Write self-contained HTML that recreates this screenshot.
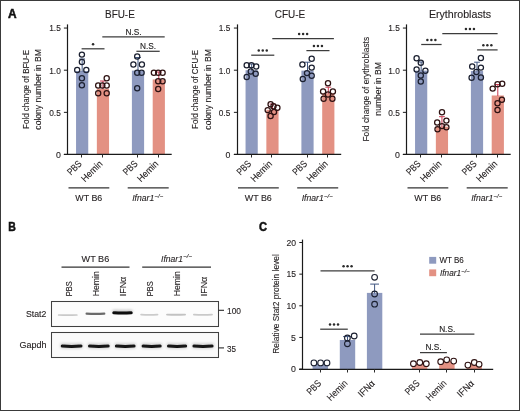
<!DOCTYPE html>
<html><head><meta charset="utf-8"><title>Figure</title>
<style>
html,body{margin:0;padding:0;background:#fff;}
body{width:520px;height:411px;overflow:hidden;}
.wrap{will-change:transform;}
text{stroke:#231f20;stroke-width:0.12px;}
svg{display:block;font-family:"Liberation Sans", sans-serif;}
</style></head>
<body><div class="wrap">
<svg width="520" height="411" viewBox="0 0 520 411">
<rect x="0" y="0" width="520" height="411" fill="#fff"/>
<text x="8.10" y="17.50" font-size="12.0" text-anchor="start" fill="#111" textLength="8.60" lengthAdjust="spacingAndGlyphs" font-weight="bold" style="stroke:#111;stroke-width:0.5px">A</text>
<text x="119.90" y="18.20" font-size="10" text-anchor="middle" fill="#231f20" textLength="29.80" lengthAdjust="spacingAndGlyphs" >BFU-E</text>
<rect x="76.05" y="71.04" width="12.20" height="83.46" fill="#8e9abf" />
<rect x="96.85" y="88.75" width="12.20" height="65.75" fill="#e39183" />
<rect x="131.90" y="70.62" width="12.20" height="83.88" fill="#8e9abf" />
<rect x="152.70" y="79.47" width="12.20" height="75.03" fill="#e39183" />
<line x1="82.15" y1="59.00" x2="82.15" y2="71.54" stroke="#3f5580" stroke-width="1.0"/>
<line x1="79.25" y1="59.00" x2="85.05" y2="59.00" stroke="#3f5580" stroke-width="1.0"/>
<line x1="102.95" y1="81.00" x2="102.95" y2="89.25" stroke="#c8364e" stroke-width="1.0"/>
<line x1="100.05" y1="81.00" x2="105.85" y2="81.00" stroke="#c8364e" stroke-width="1.0"/>
<line x1="138.00" y1="57.50" x2="138.00" y2="71.12" stroke="#3f5580" stroke-width="1.0"/>
<line x1="135.10" y1="57.50" x2="140.90" y2="57.50" stroke="#3f5580" stroke-width="1.0"/>
<line x1="158.80" y1="72.00" x2="158.80" y2="79.97" stroke="#c8364e" stroke-width="1.0"/>
<line x1="155.90" y1="72.00" x2="161.70" y2="72.00" stroke="#c8364e" stroke-width="1.0"/>
<circle cx="81.90" cy="54.60" r="2.6" fill="none" stroke="#1b2030" stroke-width="1.25"/>
<circle cx="81.90" cy="61.90" r="2.6" fill="none" stroke="#1b2030" stroke-width="1.25"/>
<circle cx="77.20" cy="69.90" r="2.6" fill="none" stroke="#1b2030" stroke-width="1.25"/>
<circle cx="86.30" cy="69.90" r="2.6" fill="none" stroke="#1b2030" stroke-width="1.25"/>
<circle cx="81.90" cy="78.20" r="2.6" fill="none" stroke="#1b2030" stroke-width="1.25"/>
<circle cx="81.90" cy="85.30" r="2.6" fill="none" stroke="#1b2030" stroke-width="1.25"/>
<circle cx="106.70" cy="78.20" r="2.6" fill="none" stroke="#2e1212" stroke-width="1.25"/>
<circle cx="98.20" cy="85.50" r="2.6" fill="none" stroke="#2e1212" stroke-width="1.25"/>
<circle cx="102.30" cy="85.50" r="2.6" fill="none" stroke="#2e1212" stroke-width="1.25"/>
<circle cx="106.70" cy="85.50" r="2.6" fill="none" stroke="#2e1212" stroke-width="1.25"/>
<circle cx="98.20" cy="93.30" r="2.6" fill="none" stroke="#2e1212" stroke-width="1.25"/>
<circle cx="106.70" cy="93.30" r="2.6" fill="none" stroke="#2e1212" stroke-width="1.25"/>
<circle cx="137.20" cy="56.40" r="2.6" fill="none" stroke="#1b2030" stroke-width="1.25"/>
<circle cx="133.40" cy="64.50" r="2.6" fill="none" stroke="#1b2030" stroke-width="1.25"/>
<circle cx="141.90" cy="64.50" r="2.6" fill="none" stroke="#1b2030" stroke-width="1.25"/>
<circle cx="137.20" cy="72.80" r="2.6" fill="none" stroke="#1b2030" stroke-width="1.25"/>
<circle cx="141.60" cy="72.80" r="2.6" fill="none" stroke="#1b2030" stroke-width="1.25"/>
<circle cx="137.20" cy="88.20" r="2.6" fill="none" stroke="#1b2030" stroke-width="1.25"/>
<circle cx="153.90" cy="72.80" r="2.6" fill="none" stroke="#2e1212" stroke-width="1.25"/>
<circle cx="158.20" cy="72.80" r="2.6" fill="none" stroke="#2e1212" stroke-width="1.25"/>
<circle cx="162.60" cy="72.80" r="2.6" fill="none" stroke="#2e1212" stroke-width="1.25"/>
<circle cx="158.20" cy="81.30" r="2.6" fill="none" stroke="#2e1212" stroke-width="1.25"/>
<circle cx="162.60" cy="81.30" r="2.6" fill="none" stroke="#2e1212" stroke-width="1.25"/>
<circle cx="158.20" cy="88.90" r="2.6" fill="none" stroke="#2e1212" stroke-width="1.25"/>
<line x1="67.50" y1="24.40" x2="67.50" y2="155.00" stroke="#1a1a1a" stroke-width="1.2"/>
<line x1="63.90" y1="154.40" x2="171.70" y2="154.40" stroke="#1a1a1a" stroke-width="1.2"/>
<line x1="63.90" y1="28.05" x2="67.50" y2="28.05" stroke="#1a1a1a" stroke-width="1.0"/>
<text x="60.80" y="31.35" font-size="9.4" text-anchor="end" fill="#231f20" textLength="11.60" lengthAdjust="spacingAndGlyphs" >1.5</text>
<line x1="63.90" y1="70.20" x2="67.50" y2="70.20" stroke="#1a1a1a" stroke-width="1.0"/>
<text x="60.80" y="73.50" font-size="9.4" text-anchor="end" fill="#231f20" textLength="11.60" lengthAdjust="spacingAndGlyphs" >1.0</text>
<line x1="63.90" y1="112.35" x2="67.50" y2="112.35" stroke="#1a1a1a" stroke-width="1.0"/>
<text x="60.80" y="115.65" font-size="9.4" text-anchor="end" fill="#231f20" textLength="11.60" lengthAdjust="spacingAndGlyphs" >0.5</text>
<line x1="63.90" y1="154.50" x2="67.50" y2="154.50" stroke="#1a1a1a" stroke-width="1.0"/>
<text x="60.80" y="157.80" font-size="9.4" text-anchor="end" fill="#231f20" textLength="4.90" lengthAdjust="spacingAndGlyphs" >0</text>
<line x1="81.50" y1="154.50" x2="81.50" y2="157.50" stroke="#2a2a2a" stroke-width="1.0"/>
<line x1="102.50" y1="154.50" x2="102.50" y2="157.50" stroke="#2a2a2a" stroke-width="1.0"/>
<line x1="137.50" y1="154.50" x2="137.50" y2="157.50" stroke="#2a2a2a" stroke-width="1.0"/>
<line x1="158.50" y1="154.50" x2="158.50" y2="157.50" stroke="#2a2a2a" stroke-width="1.0"/>
<text x="0.00" y="0.00" font-size="9.6" text-anchor="end" fill="#231f20" textLength="16.20" lengthAdjust="spacingAndGlyphs" transform="translate(82.35,164.40) rotate(-45)" >PBS</text>
<text x="0.00" y="0.00" font-size="9.6" text-anchor="end" fill="#231f20" textLength="25.60" lengthAdjust="spacingAndGlyphs" transform="translate(103.15,164.40) rotate(-45)" >Hemin</text>
<text x="0.00" y="0.00" font-size="9.6" text-anchor="end" fill="#231f20" textLength="16.20" lengthAdjust="spacingAndGlyphs" transform="translate(138.20,164.40) rotate(-45)" >PBS</text>
<text x="0.00" y="0.00" font-size="9.6" text-anchor="end" fill="#231f20" textLength="25.60" lengthAdjust="spacingAndGlyphs" transform="translate(159.00,164.40) rotate(-45)" >Hemin</text>
<line x1="68.50" y1="187.90" x2="109.30" y2="187.90" stroke="#333" stroke-width="1.35"/>
<line x1="127.70" y1="187.90" x2="168.70" y2="187.90" stroke="#333" stroke-width="1.35"/>
<text x="88.80" y="200.80" font-size="8.7" text-anchor="middle" fill="#231f20" textLength="27.00" lengthAdjust="spacingAndGlyphs" >WT B6</text>
<text x="132.20" y="200.70" font-size="9.0" text-anchor="start" fill="#231f20" textLength="22.00" lengthAdjust="spacingAndGlyphs" font-style="italic" >Ifnar1</text>
<text x="154.50" y="197.73" font-size="5.58" text-anchor="start" fill="#231f20" textLength="8.70" lengthAdjust="spacingAndGlyphs" font-style="italic" >&#8722;/&#8722;</text>
<text x="0.00" y="0.00" font-size="9.8" text-anchor="middle" fill="#231f20" textLength="79.00" lengthAdjust="spacingAndGlyphs" transform="translate(28.60,89.40) rotate(-90)" >Fold change of BFU-E</text>
<text x="0.00" y="0.00" font-size="9.8" text-anchor="middle" fill="#231f20" textLength="80.50" lengthAdjust="spacingAndGlyphs" transform="translate(41.30,89.40) rotate(-90)" >colony number in BM</text>
<line x1="81.60" y1="48.80" x2="104.50" y2="48.80" stroke="#3c3c3c" stroke-width="1.25"/>
<circle cx="93.05" cy="44.20" r="1.25" fill="#2a2a2a"/>
<line x1="102.30" y1="36.90" x2="164.70" y2="36.90" stroke="#3c3c3c" stroke-width="1.25"/>
<text x="133.50" y="34.70" font-size="8.6" text-anchor="middle" fill="#222" textLength="16.10" lengthAdjust="spacingAndGlyphs" >N.S.</text>
<line x1="136.40" y1="51.30" x2="159.70" y2="51.30" stroke="#3c3c3c" stroke-width="1.25"/>
<text x="148.05" y="49.10" font-size="8.6" text-anchor="middle" fill="#222" textLength="16.10" lengthAdjust="spacingAndGlyphs" >N.S.</text>
<text x="290.00" y="18.20" font-size="10" text-anchor="middle" fill="#231f20" textLength="30.40" lengthAdjust="spacingAndGlyphs" >CFU-E</text>
<rect x="245.55" y="70.20" width="12.20" height="84.30" fill="#8e9abf" />
<rect x="266.35" y="109.82" width="12.20" height="44.68" fill="#e39183" />
<rect x="301.40" y="70.62" width="12.20" height="83.88" fill="#8e9abf" />
<rect x="322.20" y="93.38" width="12.20" height="61.12" fill="#e39183" />
<line x1="251.65" y1="64.00" x2="251.65" y2="70.70" stroke="#3f5580" stroke-width="1.0"/>
<line x1="248.75" y1="64.00" x2="254.55" y2="64.00" stroke="#3f5580" stroke-width="1.0"/>
<line x1="272.45" y1="104.00" x2="272.45" y2="110.32" stroke="#c8364e" stroke-width="1.0"/>
<line x1="269.55" y1="104.00" x2="275.35" y2="104.00" stroke="#c8364e" stroke-width="1.0"/>
<line x1="307.50" y1="62.20" x2="307.50" y2="71.12" stroke="#3f5580" stroke-width="1.0"/>
<line x1="304.60" y1="62.20" x2="310.40" y2="62.20" stroke="#3f5580" stroke-width="1.0"/>
<line x1="328.30" y1="87.20" x2="328.30" y2="93.88" stroke="#c8364e" stroke-width="1.0"/>
<line x1="325.40" y1="87.20" x2="331.20" y2="87.20" stroke="#c8364e" stroke-width="1.0"/>
<circle cx="246.70" cy="65.20" r="2.6" fill="none" stroke="#1b2030" stroke-width="1.25"/>
<circle cx="251.40" cy="65.20" r="2.6" fill="none" stroke="#1b2030" stroke-width="1.25"/>
<circle cx="256.20" cy="66.40" r="2.6" fill="none" stroke="#1b2030" stroke-width="1.25"/>
<circle cx="250.80" cy="71.40" r="2.6" fill="none" stroke="#1b2030" stroke-width="1.25"/>
<circle cx="255.70" cy="73.70" r="2.6" fill="none" stroke="#1b2030" stroke-width="1.25"/>
<circle cx="246.70" cy="76.90" r="2.6" fill="none" stroke="#1b2030" stroke-width="1.25"/>
<circle cx="270.60" cy="104.20" r="2.6" fill="none" stroke="#2e1212" stroke-width="1.25"/>
<circle cx="273.50" cy="106.20" r="2.6" fill="none" stroke="#2e1212" stroke-width="1.25"/>
<circle cx="277.40" cy="107.70" r="2.6" fill="none" stroke="#2e1212" stroke-width="1.25"/>
<circle cx="267.70" cy="110.10" r="2.6" fill="none" stroke="#2e1212" stroke-width="1.25"/>
<circle cx="274.00" cy="112.00" r="2.6" fill="none" stroke="#2e1212" stroke-width="1.25"/>
<circle cx="270.60" cy="115.90" r="2.6" fill="none" stroke="#2e1212" stroke-width="1.25"/>
<circle cx="311.70" cy="58.80" r="2.6" fill="none" stroke="#1b2030" stroke-width="1.25"/>
<circle cx="302.40" cy="64.40" r="2.6" fill="none" stroke="#1b2030" stroke-width="1.25"/>
<circle cx="311.70" cy="67.60" r="2.6" fill="none" stroke="#1b2030" stroke-width="1.25"/>
<circle cx="307.00" cy="73.10" r="2.6" fill="none" stroke="#1b2030" stroke-width="1.25"/>
<circle cx="311.70" cy="75.80" r="2.6" fill="none" stroke="#1b2030" stroke-width="1.25"/>
<circle cx="302.80" cy="79.00" r="2.6" fill="none" stroke="#1b2030" stroke-width="1.25"/>
<circle cx="328.00" cy="83.30" r="2.6" fill="none" stroke="#2e1212" stroke-width="1.25"/>
<circle cx="323.10" cy="91.50" r="2.6" fill="none" stroke="#2e1212" stroke-width="1.25"/>
<circle cx="332.90" cy="91.50" r="2.6" fill="none" stroke="#2e1212" stroke-width="1.25"/>
<circle cx="328.00" cy="94.50" r="2.6" fill="none" stroke="#2e1212" stroke-width="1.25"/>
<circle cx="323.60" cy="98.80" r="2.6" fill="none" stroke="#2e1212" stroke-width="1.25"/>
<circle cx="332.40" cy="98.80" r="2.6" fill="none" stroke="#2e1212" stroke-width="1.25"/>
<line x1="237.50" y1="24.40" x2="237.50" y2="155.00" stroke="#1a1a1a" stroke-width="1.2"/>
<line x1="233.90" y1="154.40" x2="341.20" y2="154.40" stroke="#1a1a1a" stroke-width="1.2"/>
<line x1="233.90" y1="28.05" x2="237.50" y2="28.05" stroke="#1a1a1a" stroke-width="1.0"/>
<text x="230.30" y="31.35" font-size="9.4" text-anchor="end" fill="#231f20" textLength="11.60" lengthAdjust="spacingAndGlyphs" >1.5</text>
<line x1="233.90" y1="70.20" x2="237.50" y2="70.20" stroke="#1a1a1a" stroke-width="1.0"/>
<text x="230.30" y="73.50" font-size="9.4" text-anchor="end" fill="#231f20" textLength="11.60" lengthAdjust="spacingAndGlyphs" >1.0</text>
<line x1="233.90" y1="112.35" x2="237.50" y2="112.35" stroke="#1a1a1a" stroke-width="1.0"/>
<text x="230.30" y="115.65" font-size="9.4" text-anchor="end" fill="#231f20" textLength="11.60" lengthAdjust="spacingAndGlyphs" >0.5</text>
<line x1="233.90" y1="154.50" x2="237.50" y2="154.50" stroke="#1a1a1a" stroke-width="1.0"/>
<text x="230.30" y="157.80" font-size="9.4" text-anchor="end" fill="#231f20" textLength="4.90" lengthAdjust="spacingAndGlyphs" >0</text>
<line x1="251.50" y1="154.50" x2="251.50" y2="157.50" stroke="#2a2a2a" stroke-width="1.0"/>
<line x1="271.50" y1="154.50" x2="271.50" y2="157.50" stroke="#2a2a2a" stroke-width="1.0"/>
<line x1="307.50" y1="154.50" x2="307.50" y2="157.50" stroke="#2a2a2a" stroke-width="1.0"/>
<line x1="327.50" y1="154.50" x2="327.50" y2="157.50" stroke="#2a2a2a" stroke-width="1.0"/>
<text x="0.00" y="0.00" font-size="9.6" text-anchor="end" fill="#231f20" textLength="16.20" lengthAdjust="spacingAndGlyphs" transform="translate(251.85,164.40) rotate(-45)" >PBS</text>
<text x="0.00" y="0.00" font-size="9.6" text-anchor="end" fill="#231f20" textLength="25.60" lengthAdjust="spacingAndGlyphs" transform="translate(272.65,164.40) rotate(-45)" >Hemin</text>
<text x="0.00" y="0.00" font-size="9.6" text-anchor="end" fill="#231f20" textLength="16.20" lengthAdjust="spacingAndGlyphs" transform="translate(307.70,164.40) rotate(-45)" >PBS</text>
<text x="0.00" y="0.00" font-size="9.6" text-anchor="end" fill="#231f20" textLength="25.60" lengthAdjust="spacingAndGlyphs" transform="translate(328.50,164.40) rotate(-45)" >Hemin</text>
<line x1="238.00" y1="187.90" x2="278.80" y2="187.90" stroke="#333" stroke-width="1.35"/>
<line x1="297.20" y1="187.90" x2="338.20" y2="187.90" stroke="#333" stroke-width="1.35"/>
<text x="258.30" y="200.80" font-size="8.7" text-anchor="middle" fill="#231f20" textLength="27.00" lengthAdjust="spacingAndGlyphs" >WT B6</text>
<text x="301.70" y="200.70" font-size="9.0" text-anchor="start" fill="#231f20" textLength="22.00" lengthAdjust="spacingAndGlyphs" font-style="italic" >Ifnar1</text>
<text x="324.00" y="197.73" font-size="5.58" text-anchor="start" fill="#231f20" textLength="8.70" lengthAdjust="spacingAndGlyphs" font-style="italic" >&#8722;/&#8722;</text>
<text x="0.00" y="0.00" font-size="9.8" text-anchor="middle" fill="#231f20" textLength="79.00" lengthAdjust="spacingAndGlyphs" transform="translate(198.10,89.40) rotate(-90)" >Fold change of CFU-E</text>
<text x="0.00" y="0.00" font-size="9.8" text-anchor="middle" fill="#231f20" textLength="80.50" lengthAdjust="spacingAndGlyphs" transform="translate(210.80,89.40) rotate(-90)" >colony number in BM</text>
<line x1="272.30" y1="38.50" x2="333.90" y2="38.50" stroke="#3c3c3c" stroke-width="1.25"/>
<circle cx="299.10" cy="33.90" r="1.25" fill="#2a2a2a"/>
<circle cx="303.10" cy="33.90" r="1.25" fill="#2a2a2a"/>
<circle cx="307.10" cy="33.90" r="1.25" fill="#2a2a2a"/>
<line x1="251.20" y1="55.20" x2="274.30" y2="55.20" stroke="#3c3c3c" stroke-width="1.25"/>
<circle cx="258.75" cy="50.60" r="1.25" fill="#2a2a2a"/>
<circle cx="262.75" cy="50.60" r="1.25" fill="#2a2a2a"/>
<circle cx="266.75" cy="50.60" r="1.25" fill="#2a2a2a"/>
<line x1="306.40" y1="50.60" x2="329.50" y2="50.60" stroke="#3c3c3c" stroke-width="1.25"/>
<circle cx="313.95" cy="46.00" r="1.25" fill="#2a2a2a"/>
<circle cx="317.95" cy="46.00" r="1.25" fill="#2a2a2a"/>
<circle cx="321.95" cy="46.00" r="1.25" fill="#2a2a2a"/>
<text x="459.95" y="18.20" font-size="10" text-anchor="middle" fill="#231f20" textLength="62.10" lengthAdjust="spacingAndGlyphs" >Erythroblasts</text>
<rect x="415.05" y="70.62" width="12.20" height="83.88" fill="#8e9abf" />
<rect x="435.85" y="126.68" width="12.20" height="27.82" fill="#e39183" />
<rect x="470.90" y="71.04" width="12.20" height="83.46" fill="#8e9abf" />
<rect x="491.70" y="95.49" width="12.20" height="59.01" fill="#e39183" />
<line x1="421.15" y1="62.00" x2="421.15" y2="71.12" stroke="#3f5580" stroke-width="1.0"/>
<line x1="418.25" y1="62.00" x2="424.05" y2="62.00" stroke="#3f5580" stroke-width="1.0"/>
<line x1="441.95" y1="116.70" x2="441.95" y2="127.18" stroke="#c8364e" stroke-width="1.0"/>
<line x1="439.05" y1="116.70" x2="444.85" y2="116.70" stroke="#c8364e" stroke-width="1.0"/>
<line x1="477.00" y1="62.20" x2="477.00" y2="71.54" stroke="#3f5580" stroke-width="1.0"/>
<line x1="474.10" y1="62.20" x2="479.90" y2="62.20" stroke="#3f5580" stroke-width="1.0"/>
<line x1="497.80" y1="84.50" x2="497.80" y2="95.99" stroke="#c8364e" stroke-width="1.0"/>
<line x1="494.90" y1="84.50" x2="500.70" y2="84.50" stroke="#c8364e" stroke-width="1.0"/>
<circle cx="416.60" cy="58.30" r="2.6" fill="none" stroke="#1b2030" stroke-width="1.25"/>
<circle cx="420.80" cy="62.80" r="2.6" fill="none" stroke="#1b2030" stroke-width="1.25"/>
<circle cx="416.60" cy="69.50" r="2.6" fill="none" stroke="#1b2030" stroke-width="1.25"/>
<circle cx="425.40" cy="70.70" r="2.6" fill="none" stroke="#1b2030" stroke-width="1.25"/>
<circle cx="420.80" cy="75.50" r="2.6" fill="none" stroke="#1b2030" stroke-width="1.25"/>
<circle cx="420.80" cy="81.40" r="2.6" fill="none" stroke="#1b2030" stroke-width="1.25"/>
<circle cx="442.00" cy="112.20" r="2.6" fill="none" stroke="#2e1212" stroke-width="1.25"/>
<circle cx="437.20" cy="122.40" r="2.6" fill="none" stroke="#2e1212" stroke-width="1.25"/>
<circle cx="446.40" cy="120.60" r="2.6" fill="none" stroke="#2e1212" stroke-width="1.25"/>
<circle cx="442.00" cy="126.10" r="2.6" fill="none" stroke="#2e1212" stroke-width="1.25"/>
<circle cx="446.40" cy="127.30" r="2.6" fill="none" stroke="#2e1212" stroke-width="1.25"/>
<circle cx="437.50" cy="129.20" r="2.6" fill="none" stroke="#2e1212" stroke-width="1.25"/>
<circle cx="480.90" cy="57.90" r="2.6" fill="none" stroke="#1b2030" stroke-width="1.25"/>
<circle cx="472.20" cy="66.40" r="2.6" fill="none" stroke="#1b2030" stroke-width="1.25"/>
<circle cx="480.90" cy="67.60" r="2.6" fill="none" stroke="#1b2030" stroke-width="1.25"/>
<circle cx="476.40" cy="71.90" r="2.6" fill="none" stroke="#1b2030" stroke-width="1.25"/>
<circle cx="471.60" cy="77.70" r="2.6" fill="none" stroke="#1b2030" stroke-width="1.25"/>
<circle cx="480.90" cy="77.40" r="2.6" fill="none" stroke="#1b2030" stroke-width="1.25"/>
<circle cx="497.50" cy="84.20" r="2.6" fill="none" stroke="#2e1212" stroke-width="1.25"/>
<circle cx="502.20" cy="83.80" r="2.6" fill="none" stroke="#2e1212" stroke-width="1.25"/>
<circle cx="492.70" cy="88.60" r="2.6" fill="none" stroke="#2e1212" stroke-width="1.25"/>
<circle cx="501.90" cy="99.80" r="2.6" fill="none" stroke="#2e1212" stroke-width="1.25"/>
<circle cx="497.50" cy="103.20" r="2.6" fill="none" stroke="#2e1212" stroke-width="1.25"/>
<circle cx="497.50" cy="110.00" r="2.6" fill="none" stroke="#2e1212" stroke-width="1.25"/>
<line x1="406.50" y1="24.40" x2="406.50" y2="155.00" stroke="#1a1a1a" stroke-width="1.2"/>
<line x1="402.90" y1="154.40" x2="510.70" y2="154.40" stroke="#1a1a1a" stroke-width="1.2"/>
<line x1="402.90" y1="28.05" x2="406.50" y2="28.05" stroke="#1a1a1a" stroke-width="1.0"/>
<text x="399.80" y="31.35" font-size="9.4" text-anchor="end" fill="#231f20" textLength="11.60" lengthAdjust="spacingAndGlyphs" >1.5</text>
<line x1="402.90" y1="70.20" x2="406.50" y2="70.20" stroke="#1a1a1a" stroke-width="1.0"/>
<text x="399.80" y="73.50" font-size="9.4" text-anchor="end" fill="#231f20" textLength="11.60" lengthAdjust="spacingAndGlyphs" >1.0</text>
<line x1="402.90" y1="112.35" x2="406.50" y2="112.35" stroke="#1a1a1a" stroke-width="1.0"/>
<text x="399.80" y="115.65" font-size="9.4" text-anchor="end" fill="#231f20" textLength="11.60" lengthAdjust="spacingAndGlyphs" >0.5</text>
<line x1="402.90" y1="154.50" x2="406.50" y2="154.50" stroke="#1a1a1a" stroke-width="1.0"/>
<text x="399.80" y="157.80" font-size="9.4" text-anchor="end" fill="#231f20" textLength="4.90" lengthAdjust="spacingAndGlyphs" >0</text>
<line x1="420.50" y1="154.50" x2="420.50" y2="157.50" stroke="#2a2a2a" stroke-width="1.0"/>
<line x1="441.50" y1="154.50" x2="441.50" y2="157.50" stroke="#2a2a2a" stroke-width="1.0"/>
<line x1="476.50" y1="154.50" x2="476.50" y2="157.50" stroke="#2a2a2a" stroke-width="1.0"/>
<line x1="497.50" y1="154.50" x2="497.50" y2="157.50" stroke="#2a2a2a" stroke-width="1.0"/>
<text x="0.00" y="0.00" font-size="9.6" text-anchor="end" fill="#231f20" textLength="16.20" lengthAdjust="spacingAndGlyphs" transform="translate(421.35,164.40) rotate(-45)" >PBS</text>
<text x="0.00" y="0.00" font-size="9.6" text-anchor="end" fill="#231f20" textLength="25.60" lengthAdjust="spacingAndGlyphs" transform="translate(442.15,164.40) rotate(-45)" >Hemin</text>
<text x="0.00" y="0.00" font-size="9.6" text-anchor="end" fill="#231f20" textLength="16.20" lengthAdjust="spacingAndGlyphs" transform="translate(477.20,164.40) rotate(-45)" >PBS</text>
<text x="0.00" y="0.00" font-size="9.6" text-anchor="end" fill="#231f20" textLength="25.60" lengthAdjust="spacingAndGlyphs" transform="translate(498.00,164.40) rotate(-45)" >Hemin</text>
<line x1="407.50" y1="187.90" x2="448.30" y2="187.90" stroke="#333" stroke-width="1.35"/>
<line x1="466.70" y1="187.90" x2="507.70" y2="187.90" stroke="#333" stroke-width="1.35"/>
<text x="427.80" y="200.80" font-size="8.7" text-anchor="middle" fill="#231f20" textLength="27.00" lengthAdjust="spacingAndGlyphs" >WT B6</text>
<text x="471.20" y="200.70" font-size="9.0" text-anchor="start" fill="#231f20" textLength="22.00" lengthAdjust="spacingAndGlyphs" font-style="italic" >Ifnar1</text>
<text x="493.50" y="197.73" font-size="5.58" text-anchor="start" fill="#231f20" textLength="8.70" lengthAdjust="spacingAndGlyphs" font-style="italic" >&#8722;/&#8722;</text>
<text x="0.00" y="0.00" font-size="9.8" text-anchor="middle" fill="#231f20" textLength="104.50" lengthAdjust="spacingAndGlyphs" transform="translate(369.40,89.20) rotate(-90)" >Fold change of erythroblasts</text>
<text x="0.00" y="0.00" font-size="9.8" text-anchor="middle" fill="#231f20" textLength="53.50" lengthAdjust="spacingAndGlyphs" transform="translate(381.30,88.90) rotate(-90)" >number in BM</text>
<line x1="442.30" y1="33.60" x2="497.60" y2="33.60" stroke="#3c3c3c" stroke-width="1.25"/>
<circle cx="465.95" cy="29.00" r="1.25" fill="#2a2a2a"/>
<circle cx="469.95" cy="29.00" r="1.25" fill="#2a2a2a"/>
<circle cx="473.95" cy="29.00" r="1.25" fill="#2a2a2a"/>
<line x1="421.20" y1="44.50" x2="441.60" y2="44.50" stroke="#3c3c3c" stroke-width="1.25"/>
<circle cx="427.40" cy="39.90" r="1.25" fill="#2a2a2a"/>
<circle cx="431.40" cy="39.90" r="1.25" fill="#2a2a2a"/>
<circle cx="435.40" cy="39.90" r="1.25" fill="#2a2a2a"/>
<line x1="477.10" y1="49.90" x2="497.60" y2="49.90" stroke="#3c3c3c" stroke-width="1.25"/>
<circle cx="483.35" cy="45.30" r="1.25" fill="#2a2a2a"/>
<circle cx="487.35" cy="45.30" r="1.25" fill="#2a2a2a"/>
<circle cx="491.35" cy="45.30" r="1.25" fill="#2a2a2a"/>
<text x="8.20" y="230.70" font-size="12.0" text-anchor="start" fill="#111" textLength="7.60" lengthAdjust="spacingAndGlyphs" font-weight="bold" style="stroke:#111;stroke-width:0.5px">B</text>
<text x="95.40" y="262.30" font-size="8.7" text-anchor="middle" fill="#231f20" textLength="27.60" lengthAdjust="spacingAndGlyphs" >WT B6</text>
<text x="161.10" y="261.50" font-size="9.2" text-anchor="start" fill="#231f20" textLength="21.80" lengthAdjust="spacingAndGlyphs" font-style="italic" >Ifnar1</text>
<text x="183.20" y="258.46" font-size="5.704" text-anchor="start" fill="#231f20" textLength="8.90" lengthAdjust="spacingAndGlyphs" font-style="italic" >&#8722;/&#8722;</text>
<line x1="61.50" y1="267.10" x2="129.50" y2="267.10" stroke="#333" stroke-width="1.35"/>
<line x1="142.20" y1="267.10" x2="211.00" y2="267.10" stroke="#333" stroke-width="1.35"/>
<text x="0.00" y="0.00" font-size="9.4" text-anchor="start" fill="#231f20" textLength="15.00" lengthAdjust="spacingAndGlyphs" transform="translate(71.50,296.3) rotate(-90)" >PBS</text>
<text x="0.00" y="0.00" font-size="9.4" text-anchor="start" fill="#231f20" textLength="25.20" lengthAdjust="spacingAndGlyphs" transform="translate(98.80,296.3) rotate(-90)" >Hemin</text>
<text x="0.00" y="0.00" font-size="9.4" text-anchor="start" fill="#231f20" textLength="19.60" lengthAdjust="spacingAndGlyphs" transform="translate(125.70,296.3) rotate(-90)" >IFN&#945;</text>
<text x="0.00" y="0.00" font-size="9.4" text-anchor="start" fill="#231f20" textLength="15.00" lengthAdjust="spacingAndGlyphs" transform="translate(152.80,296.3) rotate(-90)" >PBS</text>
<text x="0.00" y="0.00" font-size="9.4" text-anchor="start" fill="#231f20" textLength="25.20" lengthAdjust="spacingAndGlyphs" transform="translate(180.10,296.3) rotate(-90)" >Hemin</text>
<text x="0.00" y="0.00" font-size="9.4" text-anchor="start" fill="#231f20" textLength="19.60" lengthAdjust="spacingAndGlyphs" transform="translate(206.80,296.3) rotate(-90)" >IFN&#945;</text>
<rect x="51.50" y="301.50" width="167.00" height="25.00" fill="#fcfcfc" stroke="#404040" stroke-width="1.05"/>
<rect x="51.50" y="332.50" width="167.00" height="25.00" fill="#fafafa" stroke="#404040" stroke-width="1.05"/>
<defs><filter id="bl" x="-20%" y="-200%" width="140%" height="500%"><feGaussianBlur stdDeviation="0.6 0.45"/></filter><filter id="bl2" x="-20%" y="-200%" width="140%" height="500%"><feGaussianBlur stdDeviation="1.4 1.2"/></filter></defs>
<path d="M114.30,309.30 Q122.50,309.90 130.70,309.30 Q132.70,309.30 132.70,311.30 Q132.70,313.30 130.70,313.30 Q122.50,313.90 114.30,313.30 Q112.30,313.30 112.30,311.30 Q112.30,309.30 114.30,309.30 Z" fill="#d0d0d0" filter="url(#bl2)"/>
<path d="M58.65,314.15 Q67.75,314.55 76.85,314.15 Q77.70,314.15 77.70,315.00 Q77.70,315.85 76.85,315.85 Q67.75,316.25 58.65,315.85 Q57.80,315.85 57.80,315.00 Q57.80,314.15 58.65,314.15 Z" fill="#c9c9c9" filter="url(#bl)"/>
<path d="M86.60,312.60 Q95.45,313.00 104.30,312.60 Q105.40,312.60 105.40,313.70 Q105.40,314.80 104.30,314.80 Q95.45,315.20 86.60,314.80 Q85.50,314.80 85.50,313.70 Q85.50,312.60 86.60,312.60 Z" fill="#6a6a6a" filter="url(#bl)"/>
<path d="M113.80,311.30 Q122.50,311.70 131.20,311.30 Q132.70,311.30 132.70,312.80 Q132.70,314.30 131.20,314.30 Q122.50,314.70 113.80,314.30 Q112.30,314.30 112.30,312.80 Q112.30,311.30 113.80,311.30 Z" fill="#0a0a0a" filter="url(#bl)"/>
<path d="M141.10,313.70 Q149.30,314.10 157.50,313.70 Q158.40,313.70 158.40,314.60 Q158.40,315.50 157.50,315.50 Q149.30,315.90 141.10,315.50 Q140.20,315.50 140.20,314.60 Q140.20,313.70 141.10,313.70 Z" fill="#cbcbcb" filter="url(#bl)"/>
<path d="M167.05,313.65 Q176.05,314.05 185.05,313.65 Q186.00,313.65 186.00,314.60 Q186.00,315.55 185.05,315.55 Q176.05,315.95 167.05,315.55 Q166.10,315.55 166.10,314.60 Q166.10,313.65 167.05,313.65 Z" fill="#c2c2c2" filter="url(#bl)"/>
<path d="M193.90,313.70 Q202.95,314.10 212.00,313.70 Q212.90,313.70 212.90,314.60 Q212.90,315.50 212.00,315.50 Q202.95,315.90 193.90,315.50 Q193.00,315.50 193.00,314.60 Q193.00,313.70 193.90,313.70 Z" fill="#c9c9c9" filter="url(#bl)"/>
<path d="M62.20,342.70 Q71.60,343.30 81.00,342.70 Q83.00,342.70 83.00,345.70 Q83.00,348.70 81.00,348.70 Q71.60,349.30 62.20,348.70 Q60.20,348.70 60.20,345.70 Q60.20,342.70 62.20,342.70 Z" fill="#d6d6d6" filter="url(#bl2)"/>
<path d="M89.50,342.70 Q98.85,343.30 108.20,342.70 Q110.20,342.70 110.20,345.70 Q110.20,348.70 108.20,348.70 Q98.85,349.30 89.50,348.70 Q87.50,348.70 87.50,345.70 Q87.50,342.70 89.50,342.70 Z" fill="#d6d6d6" filter="url(#bl2)"/>
<path d="M116.40,342.70 Q125.25,343.30 134.10,342.70 Q136.10,342.70 136.10,345.70 Q136.10,348.70 134.10,348.70 Q125.25,349.30 116.40,348.70 Q114.40,348.70 114.40,345.70 Q114.40,342.70 116.40,342.70 Z" fill="#d6d6d6" filter="url(#bl2)"/>
<path d="M143.10,342.70 Q151.65,343.30 160.20,342.70 Q162.20,342.70 162.20,345.70 Q162.20,348.70 160.20,348.70 Q151.65,349.30 143.10,348.70 Q141.10,348.70 141.10,345.70 Q141.10,342.70 143.10,342.70 Z" fill="#d6d6d6" filter="url(#bl2)"/>
<path d="M168.50,342.70 Q177.05,343.30 185.60,342.70 Q187.60,342.70 187.60,345.70 Q187.60,348.70 185.60,348.70 Q177.05,349.30 168.50,348.70 Q166.50,348.70 166.50,345.70 Q166.50,342.70 168.50,342.70 Z" fill="#d6d6d6" filter="url(#bl2)"/>
<path d="M193.90,342.70 Q203.00,343.30 212.10,342.70 Q214.10,342.70 214.10,345.70 Q214.10,348.70 212.10,348.70 Q203.00,349.30 193.90,348.70 Q191.90,348.70 191.90,345.70 Q191.90,342.70 193.90,342.70 Z" fill="#d6d6d6" filter="url(#bl2)"/>
<path d="M62.20,344.55 Q71.60,345.25 81.00,344.55 Q82.50,344.55 82.50,346.05 Q82.50,347.55 81.00,347.55 Q71.60,348.25 62.20,347.55 Q60.70,347.55 60.70,346.05 Q60.70,344.55 62.20,344.55 Z" fill="#121212" filter="url(#bl)"/>
<path d="M89.50,344.55 Q98.85,345.25 108.20,344.55 Q109.70,344.55 109.70,346.05 Q109.70,347.55 108.20,347.55 Q98.85,348.25 89.50,347.55 Q88.00,347.55 88.00,346.05 Q88.00,344.55 89.50,344.55 Z" fill="#121212" filter="url(#bl)"/>
<path d="M116.40,344.55 Q125.25,345.25 134.10,344.55 Q135.60,344.55 135.60,346.05 Q135.60,347.55 134.10,347.55 Q125.25,348.25 116.40,347.55 Q114.90,347.55 114.90,346.05 Q114.90,344.55 116.40,344.55 Z" fill="#121212" filter="url(#bl)"/>
<path d="M143.10,344.55 Q151.65,345.25 160.20,344.55 Q161.70,344.55 161.70,346.05 Q161.70,347.55 160.20,347.55 Q151.65,348.25 143.10,347.55 Q141.60,347.55 141.60,346.05 Q141.60,344.55 143.10,344.55 Z" fill="#121212" filter="url(#bl)"/>
<path d="M168.50,344.55 Q177.05,345.25 185.60,344.55 Q187.10,344.55 187.10,346.05 Q187.10,347.55 185.60,347.55 Q177.05,348.25 168.50,347.55 Q167.00,347.55 167.00,346.05 Q167.00,344.55 168.50,344.55 Z" fill="#121212" filter="url(#bl)"/>
<path d="M193.90,344.55 Q203.00,345.25 212.10,344.55 Q213.60,344.55 213.60,346.05 Q213.60,347.55 212.10,347.55 Q203.00,348.25 193.90,347.55 Q192.40,347.55 192.40,346.05 Q192.40,344.55 193.90,344.55 Z" fill="#121212" filter="url(#bl)"/>
<line x1="218.50" y1="310.30" x2="224.00" y2="310.30" stroke="#2a2a2a" stroke-width="1.1"/>
<text x="227.00" y="313.80" font-size="9.3" text-anchor="start" fill="#231f20" textLength="14.00" lengthAdjust="spacingAndGlyphs" >100</text>
<line x1="218.50" y1="347.90" x2="224.00" y2="347.90" stroke="#2a2a2a" stroke-width="1.1"/>
<text x="227.00" y="351.60" font-size="9.3" text-anchor="start" fill="#231f20" textLength="9.00" lengthAdjust="spacingAndGlyphs" >35</text>
<text x="46.40" y="317.30" font-size="8.9" text-anchor="end" fill="#231f20" textLength="20.40" lengthAdjust="spacingAndGlyphs" >Stat2</text>
<text x="46.40" y="348.20" font-size="8.9" text-anchor="end" fill="#231f20" textLength="27.00" lengthAdjust="spacingAndGlyphs" >Gapdh</text>
<text x="259.00" y="231.20" font-size="12.0" text-anchor="start" fill="#111" textLength="8.00" lengthAdjust="spacingAndGlyphs" font-weight="bold" style="stroke:#111;stroke-width:0.5px">C</text>
<rect x="312.60" y="362.77" width="15.40" height="6.33" fill="#8e9abf" />
<rect x="339.80" y="339.98" width="15.40" height="29.12" fill="#8e9abf" />
<rect x="366.90" y="292.89" width="15.40" height="76.21" fill="#8e9abf" />
<rect x="411.90" y="362.77" width="15.40" height="6.33" fill="#e39183" />
<rect x="439.20" y="361.19" width="15.40" height="7.91" fill="#e39183" />
<rect x="466.50" y="363.72" width="15.40" height="5.38" fill="#e39183" />
<line x1="347.50" y1="336.60" x2="347.50" y2="340.48" stroke="#3f5580" stroke-width="1.0"/>
<line x1="343.10" y1="336.60" x2="351.90" y2="336.60" stroke="#3f5580" stroke-width="1.0"/>
<line x1="374.60" y1="284.10" x2="374.60" y2="293.39" stroke="#3f5580" stroke-width="1.0"/>
<line x1="370.20" y1="284.10" x2="379.00" y2="284.10" stroke="#3f5580" stroke-width="1.0"/>
<circle cx="313.90" cy="362.90" r="2.85" fill="#fff" stroke="#1b2030" stroke-width="1.1"/>
<circle cx="320.60" cy="362.90" r="2.85" fill="#fff" stroke="#1b2030" stroke-width="1.1"/>
<circle cx="327.00" cy="362.90" r="2.85" fill="#fff" stroke="#1b2030" stroke-width="1.1"/>
<circle cx="347.40" cy="338.00" r="2.85" fill="none" stroke="#1b2030" stroke-width="1.1"/>
<circle cx="354.20" cy="336.00" r="2.85" fill="none" stroke="#1b2030" stroke-width="1.1"/>
<circle cx="347.40" cy="343.80" r="2.85" fill="none" stroke="#1b2030" stroke-width="1.1"/>
<circle cx="374.60" cy="277.30" r="2.85" fill="none" stroke="#1b2030" stroke-width="1.1"/>
<circle cx="374.60" cy="294.00" r="2.85" fill="none" stroke="#1b2030" stroke-width="1.1"/>
<circle cx="374.60" cy="304.20" r="2.85" fill="none" stroke="#1b2030" stroke-width="1.1"/>
<circle cx="413.40" cy="363.70" r="2.85" fill="#fff" stroke="#2e1212" stroke-width="1.1"/>
<circle cx="419.80" cy="362.50" r="2.85" fill="#fff" stroke="#2e1212" stroke-width="1.1"/>
<circle cx="426.30" cy="363.70" r="2.85" fill="#fff" stroke="#2e1212" stroke-width="1.1"/>
<circle cx="440.70" cy="361.70" r="2.85" fill="#fff" stroke="#2e1212" stroke-width="1.1"/>
<circle cx="446.70" cy="359.80" r="2.85" fill="#fff" stroke="#2e1212" stroke-width="1.1"/>
<circle cx="453.70" cy="361.10" r="2.85" fill="#fff" stroke="#2e1212" stroke-width="1.1"/>
<circle cx="467.90" cy="365.10" r="2.85" fill="#fff" stroke="#2e1212" stroke-width="1.1"/>
<circle cx="474.30" cy="362.50" r="2.85" fill="#fff" stroke="#2e1212" stroke-width="1.1"/>
<circle cx="479.10" cy="364.30" r="2.85" fill="#fff" stroke="#2e1212" stroke-width="1.1"/>
<line x1="302.50" y1="239.60" x2="302.50" y2="369.90" stroke="#1a1a1a" stroke-width="1.2"/>
<line x1="299.10" y1="369.40" x2="493.20" y2="369.40" stroke="#1a1a1a" stroke-width="1.2"/>
<line x1="299.30" y1="369.10" x2="302.50" y2="369.10" stroke="#1a1a1a" stroke-width="1.0"/>
<text x="296.00" y="372.40" font-size="9.4" text-anchor="end" fill="#231f20" textLength="4.90" lengthAdjust="spacingAndGlyphs" >0</text>
<line x1="299.30" y1="337.45" x2="302.50" y2="337.45" stroke="#1a1a1a" stroke-width="1.0"/>
<text x="296.00" y="340.75" font-size="9.4" text-anchor="end" fill="#231f20" textLength="4.90" lengthAdjust="spacingAndGlyphs" >5</text>
<line x1="299.30" y1="305.80" x2="302.50" y2="305.80" stroke="#1a1a1a" stroke-width="1.0"/>
<text x="296.00" y="309.10" font-size="9.4" text-anchor="end" fill="#231f20" textLength="9.60" lengthAdjust="spacingAndGlyphs" >10</text>
<line x1="299.30" y1="274.15" x2="302.50" y2="274.15" stroke="#1a1a1a" stroke-width="1.0"/>
<text x="296.00" y="277.45" font-size="9.4" text-anchor="end" fill="#231f20" textLength="9.60" lengthAdjust="spacingAndGlyphs" >15</text>
<line x1="299.30" y1="242.50" x2="302.50" y2="242.50" stroke="#1a1a1a" stroke-width="1.0"/>
<text x="296.00" y="245.80" font-size="9.4" text-anchor="end" fill="#231f20" textLength="9.60" lengthAdjust="spacingAndGlyphs" >20</text>
<line x1="320.50" y1="369.10" x2="320.50" y2="372.50" stroke="#2a2a2a" stroke-width="1.0"/>
<line x1="347.50" y1="369.10" x2="347.50" y2="372.50" stroke="#2a2a2a" stroke-width="1.0"/>
<line x1="374.50" y1="369.10" x2="374.50" y2="372.50" stroke="#2a2a2a" stroke-width="1.0"/>
<line x1="419.50" y1="369.10" x2="419.50" y2="372.50" stroke="#2a2a2a" stroke-width="1.0"/>
<line x1="446.50" y1="369.10" x2="446.50" y2="372.50" stroke="#2a2a2a" stroke-width="1.0"/>
<line x1="474.50" y1="369.10" x2="474.50" y2="372.50" stroke="#2a2a2a" stroke-width="1.0"/>
<text x="0.00" y="0.00" font-size="9.6" text-anchor="end" fill="#231f20" textLength="16.20" lengthAdjust="spacingAndGlyphs" transform="translate(321.90,384.00) rotate(-45)" >PBS</text>
<text x="0.00" y="0.00" font-size="9.6" text-anchor="end" fill="#231f20" textLength="24.60" lengthAdjust="spacingAndGlyphs" transform="translate(348.10,384.00) rotate(-45)" >Hemin</text>
<text x="0.00" y="0.00" font-size="9.6" text-anchor="end" fill="#231f20" textLength="19.50" lengthAdjust="spacingAndGlyphs" transform="translate(375.50,384.00) rotate(-45)" >IFN&#945;</text>
<text x="0.00" y="0.00" font-size="9.6" text-anchor="end" fill="#231f20" textLength="16.20" lengthAdjust="spacingAndGlyphs" transform="translate(420.20,384.00) rotate(-45)" >PBS</text>
<text x="0.00" y="0.00" font-size="9.6" text-anchor="end" fill="#231f20" textLength="24.60" lengthAdjust="spacingAndGlyphs" transform="translate(447.20,384.00) rotate(-45)" >Hemin</text>
<text x="0.00" y="0.00" font-size="9.6" text-anchor="end" fill="#231f20" textLength="19.50" lengthAdjust="spacingAndGlyphs" transform="translate(474.60,384.00) rotate(-45)" >IFN&#945;</text>
<text x="0.00" y="0.00" font-size="9.8" text-anchor="middle" fill="#231f20" textLength="99.50" lengthAdjust="spacingAndGlyphs" transform="translate(279.40,304.00) rotate(-90)" >Relative Stat2 protein level</text>
<line x1="320.20" y1="329.20" x2="347.80" y2="329.20" stroke="#3c3c3c" stroke-width="1.25"/>
<circle cx="330.00" cy="324.60" r="1.25" fill="#2a2a2a"/>
<circle cx="334.00" cy="324.60" r="1.25" fill="#2a2a2a"/>
<circle cx="338.00" cy="324.60" r="1.25" fill="#2a2a2a"/>
<line x1="320.50" y1="270.80" x2="374.60" y2="270.80" stroke="#3c3c3c" stroke-width="1.25"/>
<circle cx="343.55" cy="266.20" r="1.25" fill="#2a2a2a"/>
<circle cx="347.55" cy="266.20" r="1.25" fill="#2a2a2a"/>
<circle cx="351.55" cy="266.20" r="1.25" fill="#2a2a2a"/>
<line x1="420.00" y1="352.60" x2="446.90" y2="352.60" stroke="#3c3c3c" stroke-width="1.25"/>
<text x="433.45" y="350.40" font-size="8.6" text-anchor="middle" fill="#222" textLength="16.10" lengthAdjust="spacingAndGlyphs" >N.S.</text>
<line x1="420.00" y1="334.00" x2="474.40" y2="334.00" stroke="#3c3c3c" stroke-width="1.25"/>
<text x="447.20" y="331.80" font-size="8.6" text-anchor="middle" fill="#222" textLength="16.10" lengthAdjust="spacingAndGlyphs" >N.S.</text>
<rect x="429.20" y="256.90" width="7.00" height="6.80" fill="#8e9abf" />
<text x="439.40" y="262.80" font-size="8.7" text-anchor="start" fill="#231f20" textLength="24.40" lengthAdjust="spacingAndGlyphs" >WT B6</text>
<rect x="429.20" y="269.40" width="7.00" height="6.80" fill="#e39183" />
<text x="440.00" y="275.70" font-size="8.7" text-anchor="start" fill="#231f20" textLength="21.00" lengthAdjust="spacingAndGlyphs" font-style="italic" >Ifnar1</text>
<text x="461.30" y="272.83" font-size="5.393999999999999" text-anchor="start" fill="#231f20" textLength="8.40" lengthAdjust="spacingAndGlyphs" font-style="italic" >&#8722;/&#8722;</text>
<rect x="0.5" y="0.5" width="519" height="410" fill="none" stroke="#3a3a3a" stroke-width="1"/>
</svg></div>
</body></html>
